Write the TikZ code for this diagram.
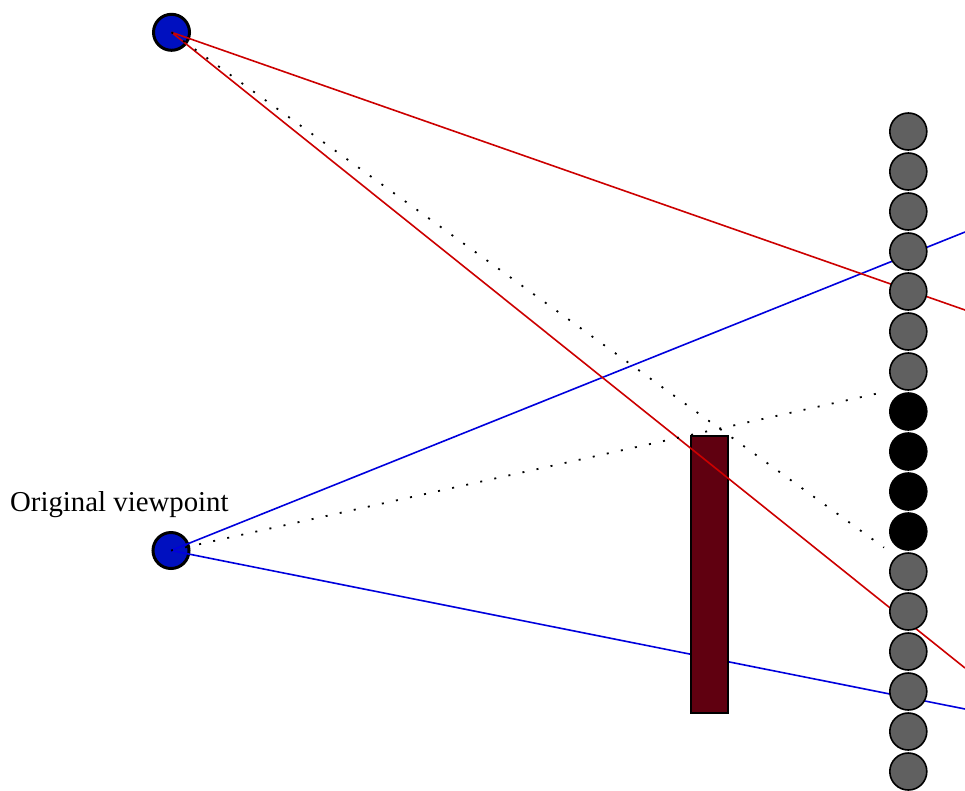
\documentclass[tikz,border=0pt]{standalone}
\usepackage{fontspec}
\setmainfont{Liberation Serif}
\begin{document}
\begin{tikzpicture}[x=1pt,y=-1pt,
  viewpt/.style={circle,draw=black,line width=3pt,fill=vpblue,minimum size=36pt,inner sep=0pt},
  pix/.style={circle,draw=black,line width=1.6pt,fill=pixgray,minimum size=37pt,inner sep=0pt},
  pixdark/.style={pix,fill=black},
  redray/.style={draw=rayred,line width=1.6pt},
  blueray/.style={draw=rayblue,line width=1.6pt},
  dotray/.style={draw=black,line width=1.8pt,dash pattern=on 2pt off 12.4pt},
  occluder/.style={draw=black,line width=2pt,fill=occred,minimum width=37pt,minimum height=277pt,inner sep=0pt}]
\definecolor{vpblue}{RGB}{0,16,192}
\definecolor{pixgray}{RGB}{96,96,96}
\definecolor{rayred}{RGB}{204,0,0}
\definecolor{rayblue}{RGB}{0,0,221}
\definecolor{occred}{RGB}{96,0,16}
\useasboundingbox (0,0) rectangle (965,790);
\clip (0,0) rectangle (965,790);
% viewpoints
\node[viewpt] (top) at (171.5,32.3) {};
\node[viewpt] (orig) at (171,550.5) {};
\node[anchor=base west,inner sep=0pt,font=\fontsize{28.8}{34}\selectfont] (lbl) at (10,511.7) {Original viewpoint};
% ray end points
\coordinate (b1) at (965,232);
\coordinate (b2) at (965,709);
\coordinate (r1) at (965,310);
\coordinate (r2) at (965,668);
\coordinate (d1) at (884,547.5);
\coordinate (d2) at (884,392);
% blue rays
\draw[blueray] (orig.center) -- (b1);
\draw[blueray] (orig.center) -- (b2);
% occluder
\node[occluder] (occ) at (709,574) {};
% red rays
\draw[redray] (top.center) -- (r1);
\draw[redray] (top.center) -- (r2);
% dotted rays
\draw[dotray] (top.center) -- (d1);
\draw[dotray] (orig.center) -- (d2);
% pixel column
\foreach \i in {0,...,16}{
  \pgfmathsetmacro{\yy}{131.5+40*\i}
  \ifnum\i>6 \ifnum\i<11
    \node[pixdark] (p\i) at (908.3,\yy) {};
  \else
    \node[pix] (p\i) at (908.3,\yy) {};
  \fi\else
    \node[pix] (p\i) at (908.3,\yy) {};
  \fi
}
\end{tikzpicture}
\end{document}
